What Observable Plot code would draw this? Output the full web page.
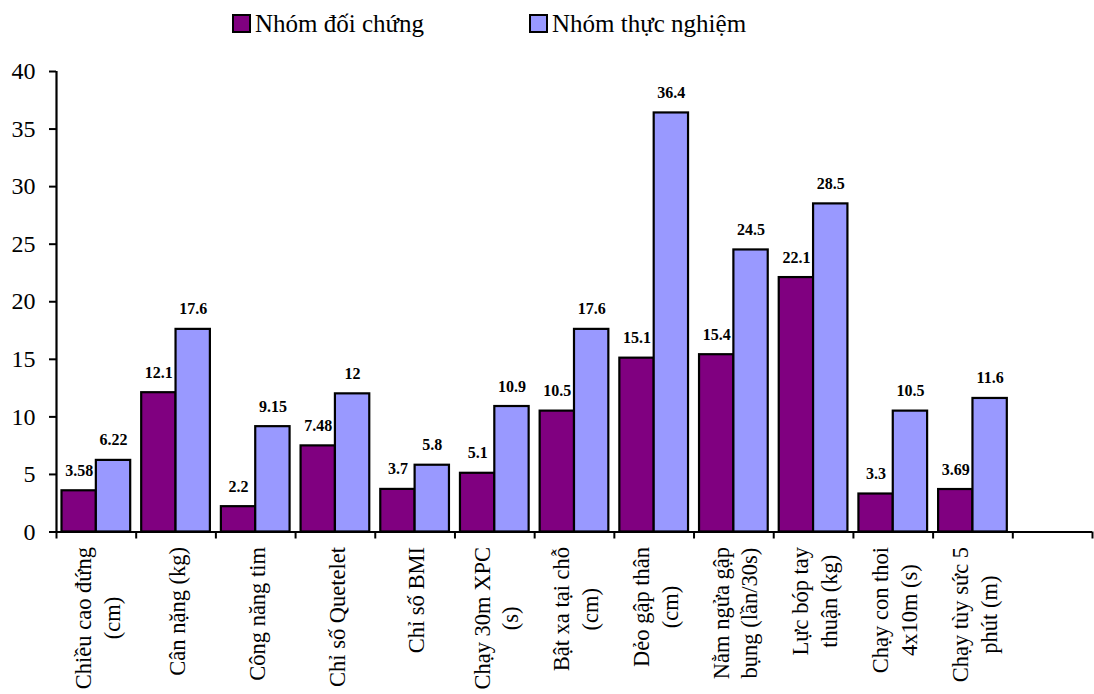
<!DOCTYPE html>
<html>
<head>
<meta charset="utf-8">
<script src="https://cdn.jsdelivr.net/npm/d3@7"></script>
<script src="https://cdn.jsdelivr.net/npm/@observablehq/plot@0.6"></script>
<style>
  body { margin: 0; background: #fff; }
  #wrap { position: relative; width: 1094px; height: 694px; font-family: "Liberation Serif", "Times New Roman", "DejaVu Serif", serif; color: #000; }
  #chart { position: absolute; left: 0; top: 0; }
  #legend { position: absolute; left: 0; top: 0; width: 1094px; height: 44px; }
  .item { position: absolute; top: 9px; display: flex; align-items: center; font-size: 25px; line-height: 29px; white-space: nowrap; font-family: "Liberation Serif", "Times New Roman", serif; }
  .sw { width: 15px; height: 15px; border: 2px solid #000; margin-right: 4px; }
</style>
</head>
<body>
<div id="wrap">
  <div id="chart"></div>
  <div id="legend"></div>
</div>
<script>
// ---- data ----
const categories = [
  "Chiều cao đứng\n(cm)",
  "Cân nặng (kg)",
  "Công năng tim",
  "Chỉ số Quetelet",
  "Chỉ số BMI",
  "Chạy 30m XPC\n(s)",
  "Bật xa tại chỗ\n(cm)",
  "Dẻo gập thân\n(cm)",
  "Nằm ngửa gập\nbụng (lần/30s)",
  "Lực bóp tay\nthuận (kg)",
  "Chạy con thoi\n4x10m (s)",
  "Chạy tùy sức 5\nphút (m)",
  ""
];
const controlValues = [3.58, 12.1, 2.2, 7.48, 3.7, 5.1, 10.5, 15.1, 15.4, 22.1, 3.3, 3.69];
const experimentValues = [6.22, 17.6, 9.15, 12, 5.8, 10.9, 17.6, 36.4, 24.5, 28.5, 10.5, 11.6];
const seriesNames = ["Nhóm đối chứng", "Nhóm thực nghiệm"];
const seriesColors = ["#800080", "#9999FF"];
const yTicks = [0, 5, 10, 15, 20, 25, 30, 35, 40];

// ---- tables built from the arrays ----
const control = controlValues.map((v, i) => ({i, value: v}));
const experiment = experimentValues.map((v, i) => ({i, value: v}));
const labelRows = categories.map((c, i) => ({i, label: c}));
const n = categories.length;

const FONT = "'Liberation Serif', 'Times New Roman', serif";
const W = 1094, H = 694, ML = 56, MR = 2, MT = 71, MB = 162.5;
const outerInset = 5.5;

const plot = Plot.plot({
  width: W,
  height: H,
  marginLeft: ML,
  marginRight: MR,
  marginTop: MT,
  marginBottom: MB,
  style: {fontFamily: FONT, fontSize: "24px", color: "#000", background: "transparent"},
  x: {type: "linear", domain: [0, n], label: null},
  y: {domain: [0, 40], label: null},
  marks: [
    Plot.rect(control, {x1: d => d.i, x2: d => d.i + 0.5, y1: 0, y2: "value", fill: seriesColors[0], stroke: "#000", strokeWidth: 2.2, insetLeft: outerInset}),
    Plot.rect(experiment, {x1: d => d.i + 0.5, x2: d => d.i + 1, y1: 0, y2: "value", fill: seriesColors[1], stroke: "#000", strokeWidth: 2.2, insetRight: outerInset}),
    Plot.axisY({ticks: yTicks, tickSize: 7, tickPadding: 14, strokeWidth: 2, fontSize: 24, fontFamily: FONT, label: null}),
    Plot.axisX({ticks: d3.range(0, n + 1), tickSize: 7, tickFormat: () => "", strokeWidth: 2, label: null}),
    Plot.ruleY([0], {strokeWidth: 2.2}),
    Plot.ruleX([0], {y1: 0, y2: 40, strokeWidth: 2.2}),
    Plot.text(labelRows, {x: d => d.i + 0.5, y: 0, text: "label", rotate: -90, textAnchor: "middle", lineAnchor: "middle", lineHeight: 1.28, fontSize: 22.5, fontFamily: FONT, fill: "#000"}),
    Plot.text(control, {x: d => d.i + 0.25, dx: outerInset / 2, y: "value", text: d => String(d.value), dy: -15, lineAnchor: "bottom", fontWeight: "bold", fontSize: 16, fontFamily: FONT, fill: "#000"}),
    Plot.text(experiment, {x: d => d.i + 0.75, dx: -outerInset / 2, y: "value", text: d => String(d.value), dy: -15, lineAnchor: "bottom", fontWeight: "bold", fontSize: 16, fontFamily: FONT, fill: "#000"})
  ]
});

document.getElementById("chart").append(plot);

// Excel-like placement of rotated category labels: centred lines, block starting just below the axis
plot.querySelectorAll("text[transform*='rotate(-90)']").forEach(t => {
  const spans = t.querySelectorAll("tspan");
  let max = 0;
  if (spans.length) spans.forEach(s => { max = Math.max(max, s.getComputedTextLength()); });
  else max = t.getComputedTextLength();
  if (max > 0) t.setAttribute("transform", t.getAttribute("transform") + ` translate(${-(15 + max / 2)},0)`);
});

// legend
const legend = document.getElementById("legend");
const legendLeft = [232, 529];
seriesNames.forEach((name, k) => {
  const item = document.createElement("div");
  item.className = "item";
  item.style.left = legendLeft[k] + "px";
  const sw = document.createElement("span");
  sw.className = "sw";
  sw.style.background = seriesColors[k];
  const label = document.createElement("span");
  label.textContent = name;
  item.append(sw, label);
  legend.append(item);
});
</script>
</body>
</html>
